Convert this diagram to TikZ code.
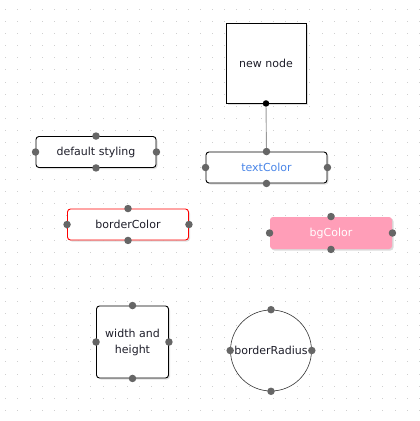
\documentclass[tikz,border=0pt]{standalone}
\usepackage{fontspec}
\setmainfont{DejaVu Sans}
\usetikzlibrary{shadows}
\definecolor{gridc}{HTML}{CFCFCF}
\definecolor{portc}{HTML}{666666}
\definecolor{txtc}{HTML}{1E1E2A}
\definecolor{bluec}{HTML}{4A86E8}
\definecolor{pinkc}{HTML}{FF9EB8}
\definecolor{shadowc}{HTML}{D8D8D8}
\definecolor{linec}{HTML}{999999}
\tikzset{
  basebox/.style={draw=black, line width=0.9pt, rounded corners=3pt, fill=white, inner sep=0pt,
    font=\fontsize{11}{13}\selectfont, text=txtc, align=center,
    drop shadow={shadow xshift=1.5pt, shadow yshift=-1.5pt, fill=shadowc, opacity=0.8}},
  port/.style={circle, fill=portc, inner sep=0pt, minimum size=7.5pt},
  blackport/.style={circle, fill=black, inner sep=0pt, minimum size=6.5pt},
  conn/.style={draw=linec, line width=0.9pt},
}
\begin{document}
\begin{tikzpicture}[x=1pt,y=-1pt]
\useasboundingbox[fill=white] (0,0) rectangle (420,421);
% dot grid
\foreach \i in {0,...,34}{
  \foreach \j in {0,...,34}{
    \fill[gridc] ({5.7+12.17*\i-0.5},{9+12.17*\j-0.5}) rectangle ++(1,1);
  }
}
% nodes
\node[basebox, rounded corners=0pt, minimum width=80pt, minimum height=80pt] (nn) at (266,63) {new node};
\node[basebox, minimum width=121pt, minimum height=31pt, text=bluec] (tc) at (266.5,167.5) {textColor};
\node[basebox, minimum width=120pt, minimum height=31pt] (ds) at (96,152) {default styling};
\node[basebox, draw=red, minimum width=121pt, minimum height=31pt] (bc) at (128,224.5) {borderColor};
\node[basebox, draw=none, fill=pinkc, minimum width=122pt, minimum height=32pt, text=white,
  drop shadow={shadow xshift=1pt, shadow yshift=-1pt, fill=shadowc, opacity=0.6}] (bg) at (331,233) {bgColor};
\node[basebox, minimum width=72pt, minimum height=72pt] (wh) at (132.5,342) {width and\\[3pt]height};
\node[circle, draw=black!80, line width=0.6pt, fill=white, minimum size=81pt, inner sep=0pt,
  font=\fontsize{11}{13}\selectfont, text=txtc] (br) at (271,350.5) {borderRadius};
% connector
\draw[conn] (nn.south) -- (tc.north);
% ports
\node[blackport] (nnS) at (nn.south) {};
\foreach \n in {tc,ds,bc,bg,wh,br}{
  \node[port] (\n N) at (\n.north) {};
  \node[port] (\n S) at (\n.south) {};
  \node[port] (\n W) at (\n.west) {};
  \node[port] (\n E) at (\n.east) {};
}
\end{tikzpicture}
\end{document}
